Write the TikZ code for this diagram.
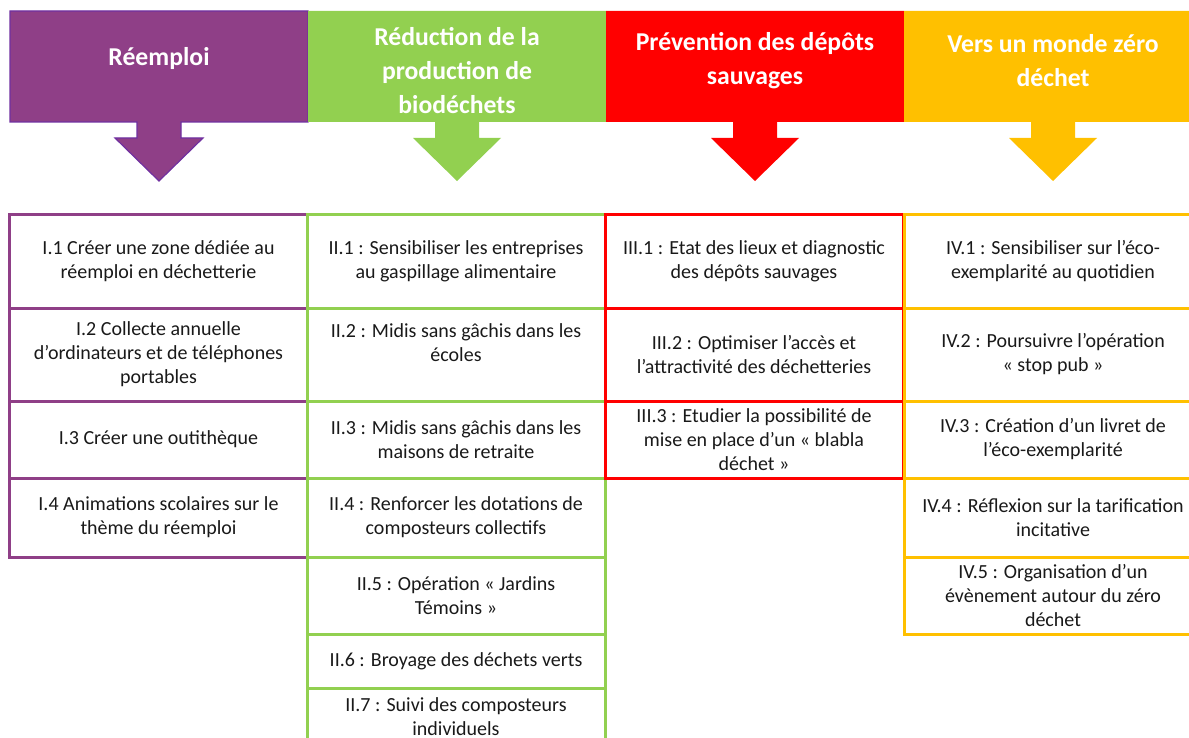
\documentclass[tikz,border=0pt]{standalone}
\usepackage{fontspec}
\setmainfont{Carlito}
\usetikzlibrary{positioning}
\definecolor{purp}{RGB}{143,63,135}
\definecolor{vio}{RGB}{112,48,160}
\definecolor{grn}{RGB}{146,208,80}
\definecolor{rd}{RGB}{255,0,0}
\definecolor{ylw}{RGB}{255,192,0}
\tikzset{
  cpurp/.style={fill=purp, draw=vio, line width=0.6pt},
  cgrn/.style={fill=grn},
  crd/.style={fill=rd},
  cylw/.style={fill=ylw},
  hd/.style={font=\bfseries\fontsize{12.85}{17}\selectfont, text=white, align=center},
  act/.style={draw=#1, line width=1.5pt, minimum width=149pt, inner sep=0pt, outer sep=0pt,
    align=center, font=\fontsize{10}{12}\selectfont, text=black!90},
}
\begin{document}
\begin{tikzpicture}[x=0.5pt, y=-0.5pt]
  \useasboundingbox (0,0) rectangle (1189,738);
  \clip (0,0) rectangle (1189,738);
  % bandeaux + fleches
  \foreach \xm/\sty in {159/cpurp, 457/cgrn, 755/crd, 1053/cylw}
    \path[\sty] (\xm-149,11) -- (\xm+149,11) -- (\xm+149,122) -- (\xm+22,122) -- (\xm+22,138)
      -- (\xm+44,138) -- (\xm,181) -- (\xm-44,138) -- (\xm-22,138) -- (\xm-22,122)
      -- (\xm-149,122) -- cycle;
  \node[hd] (h1) at (159,59) {Réemploi};
  \node[hd] (h2) at (457,71) {Réduction de la\\production de\\biodéchets};
  \node[hd] (h3) at (755,61) {Prévention des dépôts\\sauvages};
  \node[hd] (h4) at (1053,61) {Vers un monde zéro\\déchet};

  % I - reemploi
  \node[act=purp, minimum height=47pt, anchor=north] (i1) at (158.5,214) {I.1 Créer une zone dédiée au\\réemploi en déchetterie};
  \node[act=purp, minimum height=46.5pt, below=0pt of i1] (i2) {I.2 Collecte annuelle\\d’ordinateurs et de téléphones\\portables};
  \node[act=purp, minimum height=38.5pt, below=0pt of i2] (i3) {I.3 Créer une outithèque};
  \node[act=purp, minimum height=39.5pt, below=0pt of i3] (i4) {I.4 Animations scolaires sur le\\thème du réemploi};

  % II - biodechets
  \node[act=grn, minimum height=47pt, anchor=north] (ii1) at (456,214) {II.1 : Sensibiliser les entreprises\\au gaspillage alimentaire};
  \node[act=grn, minimum height=46.5pt, below=0pt of ii1] (ii2) {II.2 : Midis sans gâchis dans les\\écoles\\\mbox{}};
  \node[act=grn, minimum height=38.5pt, below=0pt of ii2] (ii3) {II.3 : Midis sans gâchis dans les\\maisons de retraite};
  \node[act=grn, minimum height=39.5pt, below=0pt of ii3] (ii4) {II.4 : Renforcer les dotations de\\composteurs collectifs};
  \node[act=grn, minimum height=38.5pt, below=0pt of ii4] (ii5) {II.5 : Opération « Jardins\\Témoins »};
  \node[act=grn, minimum height=27pt, below=0pt of ii5] (ii6) {II.6 : Broyage des déchets verts};
  \node[act=grn, minimum height=28.5pt, below=0pt of ii6] (ii7) {II.7 : Suivi des composteurs\\individuels};

  % III - depots sauvages
  \node[act=rd, minimum height=47pt, anchor=north] (iii1) at (754,214) {III.1 : Etat des lieux et diagnostic\\des dépôts sauvages};
  \node[act=rd, minimum height=46.5pt, below=0pt of iii1] (iii2) {III.2 : Optimiser l’accès et\\l’attractivité des déchetteries};
  \node[act=rd, minimum height=38.5pt, below=0pt of iii2] (iii3) {III.3 : Etudier la possibilité de\\mise en place d’un « blabla\\déchet »};

  % IV - zero dechet
  \node[act=ylw, minimum height=47pt, anchor=north] (iv1) at (1053,214) {IV.1 : Sensibiliser sur l’éco-\\exemplarité au quotidien};
  \node[act=ylw, minimum height=46.5pt, below=0pt of iv1] (iv2) {IV.2 : Poursuivre l’opération\\« stop pub »};
  \node[act=ylw, minimum height=38.5pt, below=0pt of iv2] (iv3) {IV.3 : Création d’un livret de\\l’éco-exemplarité};
  \node[act=ylw, minimum height=39.5pt, below=0pt of iv3] (iv4) {IV.4 : Réflexion sur la tarification\\incitative};
  \node[act=ylw, minimum height=38.5pt, below=0pt of iv4] (iv5) {IV.5 : Organisation d’un\\évènement autour du zéro\\déchet};
\end{tikzpicture}
\end{document}
